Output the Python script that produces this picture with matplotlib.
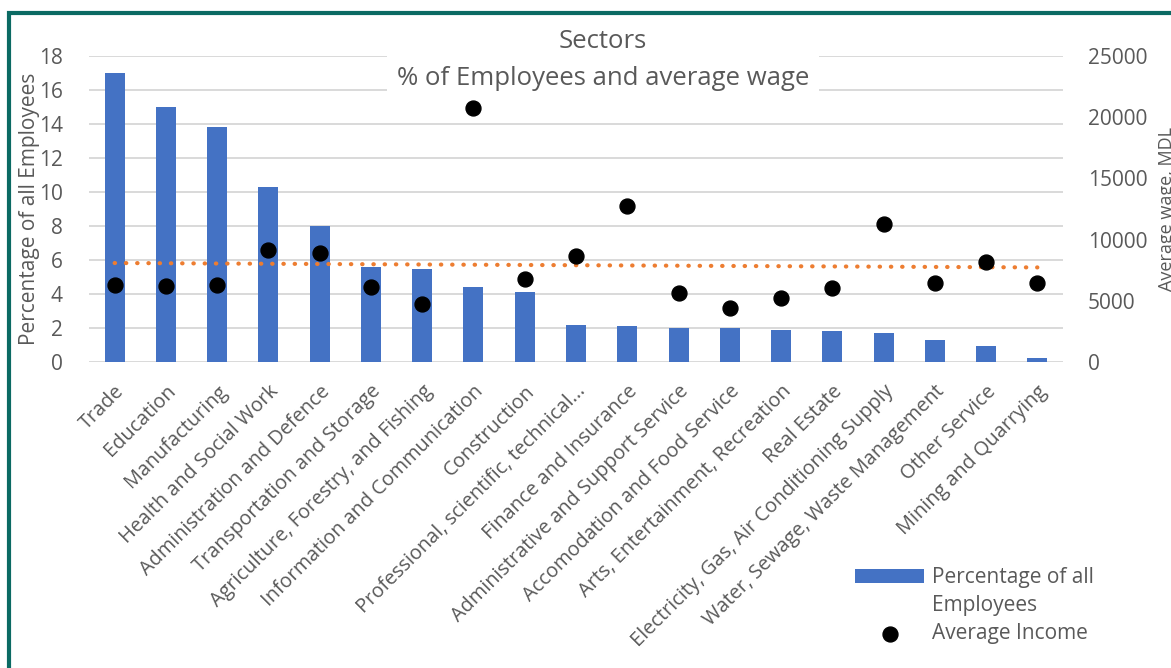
import numpy as np
import matplotlib
matplotlib.use("Agg")
import matplotlib.pyplot as plt
from matplotlib.patches import Rectangle

plt.rcParams["font.family"] = ["Open Sans", "DejaVu Sans"]

sectors = [
    "Trade", "Education", "Manufacturing", "Health and Social Work",
    "Administration and Defence", "Transportation and Storage",
    "Agriculture, Forestry, and Fishing", "Information and Communication",
    "Construction", "Professional, scientific, technical...",
    "Finance and Insurance", "Administrative and Support Service",
    "Accomodation and Food Service", "Arts, Entertainment, Recreation",
    "Real Estate", "Electricity, Gas, Air Conditioning Supply",
    "Water, Sewage, Waste Management", "Other Service", "Mining and Quarrying",
]
share_employees = [17.0, 15.0, 13.8, 10.3, 8.0, 5.6, 5.5, 4.4, 4.1, 2.15,
                   2.1, 2.0, 2.0, 1.9, 1.8, 1.7, 1.3, 0.95, 0.25]
average_income = [6300, 6170, 6300, 9110, 8900, 6090, 4760, 20780, 6780, 8620,
                  12760, 5630, 4380, 5220, 6010, 11270, 6470, 8210, 6470]

text_color = "#595959"
W, H = 1171, 668

fig = plt.figure(figsize=(W / 100, H / 100), dpi=100)
ax = fig.add_axes([89 / W, 1 - 362 / H, (1063 - 89) / W, (362 - 56) / H])

x = np.arange(len(sectors))
bars = ax.bar(x, share_employees, width=0.39, color="#4472C4", zorder=2)
ax.set_xlim(-0.5, len(sectors) - 0.5)
ax.set_ylim(0, 18)
ax.set_yticks(np.arange(0, 19, 2))
ax.grid(axis="y", color="#D9D9D9", lw=1.4)
ax.set_axisbelow(True)
for s in ax.spines.values():
    s.set_visible(False)
ax.tick_params(axis="y", length=0, pad=19, labelsize=15, labelcolor=text_color)
ax.tick_params(axis="x", length=0, pad=14, labelsize=14.3, labelcolor=text_color)
ax.set_xticks(x)
ax.set_xticklabels(sectors, rotation=45, ha="right", rotation_mode="anchor")

# income on the secondary axis, with a linear trend
ax2 = ax.twinx()
ax2.set_ylim(0, 25000)
ax2.set_yticks(np.arange(0, 25001, 5000))
for s in ax2.spines.values():
    s.set_visible(False)
ax2.tick_params(axis="y", length=0, pad=18, labelsize=15, labelcolor=text_color)
dots = ax2.scatter(x, average_income, s=115, color="black", zorder=3)
coef = np.polyfit(x, average_income, 1)
ax2.plot(x, np.polyval(coef, x), color="#ED7D31", lw=3,
         linestyle=(0, (0.1, 2.6)), dash_capstyle="round", zorder=2)

fig.text(30 / W, 1 - 209 / H, "Percentage of all Employees", rotation=90,
         ha="center", va="center", fontsize=15, color=text_color)
fig.text(1167 / W, 1 - 209 / H, "Average wage, MDL", rotation=90,
         ha="center", va="center", fontsize=13, color=text_color)

fig.text(603 / W, 1 - 60 / H, "Sectors\n% of Employees and average wage",
         ha="center", va="center", fontsize=18.5, color=text_color,
         linespacing=1.6, zorder=5,
         bbox=dict(facecolor="white", edgecolor="none", pad=7))

# legend: second line of the bar label sits in its own row with no handle
blank = Rectangle((0, 0), 1, 1, visible=False)
leg = fig.legend([bars, blank, dots], ["Percentage of all", "Employees", "Average Income"],
                 loc="upper left", bbox_to_anchor=(845 / W, 1 - 557 / H),
                 frameon=False, fontsize=15, labelcolor=text_color,
                 handlelength=3.3, handleheight=0.6, handletextpad=0.4,
                 labelspacing=0.33, borderpad=0)

fig.add_artist(Rectangle((9 / W, -0.1), 1.2, 1.1 - 13 / H, transform=fig.transFigure,
                         fill=False, edgecolor="#0B6A63", lw=3))

fig.savefig("out.png", dpi=100)
